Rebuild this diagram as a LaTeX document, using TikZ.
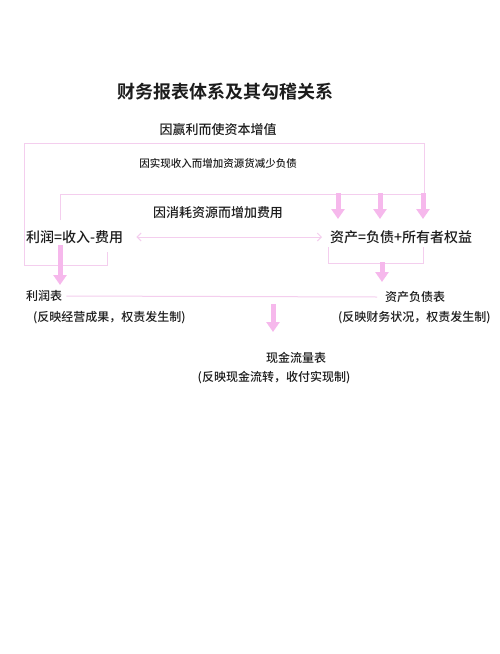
\documentclass[tikz,border=0pt]{standalone}
\usepackage{fontspec}
\setmainfont{Noto Sans CJK SC}[UprightFont=* Medium, BoldFont=* Bold]
\setsansfont{Noto Sans CJK SC}[UprightFont=* Medium, BoldFont=* Bold]
\usetikzlibrary{arrows.meta}

\begin{document}
\begin{tikzpicture}[x=1pt,y=-1pt,font=\sffamily,
  pinkline/.style={draw=lin, line width=1pt},
  fatarrow/.style={draw=arr, line width=5pt, -{Triangle[width=13pt,length=10pt]}},
  lbl/.style={ink, inner sep=0pt, font=\sffamily\fontsize{13}{15}\selectfont}]
  \definecolor{ink}{RGB}{28,28,28}
  \definecolor{lin}{RGB}{244,206,238}
  \definecolor{arr}{RGB}{246,184,236}

  \fill[white] (0,0) rectangle (500,654);
  \useasboundingbox (0,0) rectangle (500,654);

  % titles
  \node[lbl, font=\sffamily\bfseries\fontsize{18}{20}\selectfont] (title) at (225,92) {财务报表体系及其勾稽关系};
  \node[lbl] (gain) at (218,130) {因赢利而使资本增值};
  \node[lbl, font=\sffamily\fontsize{10.5}{12}\selectfont] (income) at (218,163) {因实现收入而增加资源货减少负债};
  \node[lbl] (cost) at (218,213) {因消耗资源而增加费用};

  % equations
  \node[lbl, anchor=west, font=\sffamily\fontsize{14}{16}\selectfont] (profit) at (26,237) {利润=收入-费用};
  \node[lbl, anchor=west, font=\sffamily\fontsize{14}{16}\selectfont] (asset) at (330,237) {资产=负债+所有者权益};

  % statements
  \node[lbl, anchor=west, font=\sffamily\fontsize{12}{14}\selectfont] (pl) at (26,296) {利润表};
  \node[lbl, anchor=west, font=\sffamily\fontsize{12}{14}\selectfont] (plnote) at (33,318) {(反映经营成果，权责发生制)};
  \node[lbl, anchor=west, font=\sffamily\fontsize{12}{14}\selectfont] (bs) at (385,297) {资产负债表};
  \node[lbl, anchor=west, font=\sffamily\fontsize{12}{14}\selectfont] (bsnote) at (338,318) {(反映财务状况，权责发生制)};
  \node[lbl, font=\sffamily\fontsize{12}{14}\selectfont] (cf) at (296,358) {现金流量表};
  \node[lbl, font=\sffamily\fontsize{12}{14}\selectfont] (cfnote) at (274,378) {(反映现金流转，收付实现制)};

  % frames
  \draw[pinkline] (107,252) -- (107,265) -- (24,265) -- (24,143) -- (424,143) -- (424,194);
  \draw[pinkline] (60,220) -- (60,194) -- (424,194);
  \draw[pinkline] (328,247) -- (328,263) -- (423,263) -- (423,247);
  \draw[pinkline, {Straight Barb[length=4pt]}-{Straight Barb[length=4pt]}] ([xshift=13pt]profit.east) -- ([xshift=-8pt]asset.west);
  \draw[pinkline] ([xshift=4pt]pl.east) -- ([xshift=-8pt]bs.west);

  % arrows
  \foreach \x in {338,380,423}
    \draw[fatarrow] (\x,193) -- (\x,219);
  \draw[fatarrow] (60,245) -- (60,285);
  \draw[fatarrow] (382,262) -- (382,282);
  \draw[fatarrow] (273,304) -- (273,332);
\end{tikzpicture}
\end{document}
